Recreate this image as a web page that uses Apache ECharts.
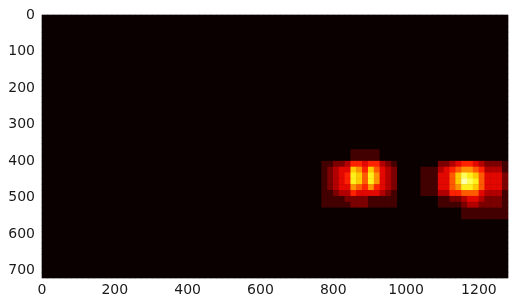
<!DOCTYPE html>
<html>
<head>
<meta charset="utf-8">
<script src="https://cdn.jsdelivr.net/npm/echarts@6/dist/echarts.min.js"></script>
<style>
html,body{margin:0;padding:0;background:#ffffff;}
#chart{width:517px;height:307px;}
</style>
</head>
<body>
<div id="chart"></div>
<script>
// Image is 1280 x 720 pixels, heat accumulated on 16-pixel cells (80 x 45 cells)
const imageWidth = 1280;
const imageHeight = 720;
const cellSize = 16;
const xTickLabels = [0, 200, 400, 600, 800, 1000, 1200];
const yTickLabels = [0, 100, 200, 300, 400, 500, 600, 700];

// Heat values for cell rows 23..34, cell columns 48..79 (all other cells are 0)
const heatFirstRow = 23;
const heatFirstCol = 48;
const heatRows = [
  [0,0,0,0,0,1,1,1,1,1,0,0,0, 0,0,0,0, 0,0,0, 0,0,0,0,0,0,0,0,0,0,0,0],
  [0,0,0,0,0,1,1,1,1,1,0,0,0, 0,0,0,0, 0,0,0, 0,0,0,0,0,0,0,0,0,0,0,0],
  [1,1,2,2,3,5,5,4,5,5,3,2,1, 0,0,0,0, 0,0,0, 2,2,3,4,5,5,4,3,2,2,2,1],
  [1,2,3,4,4,8,7,5,8,6,4,3,2, 0,0,0,0, 1,1,1, 3,4,5,6,7,7,6,5,3,3,3,1],
  [1,2,3,4,5,9,8,6,9,7,4,3,2, 0,0,0,0, 1,1,1, 4,4,6,8,10,9,8,6,4,4,4,2],
  [1,2,3,4,5,9,8,6,9,7,4,3,2, 0,0,0,0, 1,1,1, 4,4,6,8,11,10,9,6,4,4,4,2],
  [1,2,3,4,4,7,6,5,7,5,4,3,2, 0,0,0,0, 1,1,1, 4,4,6,7,9,9,8,6,4,4,4,2],
  [1,1,2,3,3,5,4,4,4,4,3,2,1, 0,0,0,0, 1,1,1, 3,3,5,5,6,6,6,4,3,3,3,1],
  [1,1,1,1,2,2,2,2,1,1,1,1,1, 0,0,0,0, 0,0,0, 1,1,2,2,3,4,4,3,2,2,2,1],
  [1,1,1,1,1,2,2,2,1,1,1,1,1, 0,0,0,0, 0,0,0, 1,1,1,1,2,3,3,2,2,2,2,1],
  [0,0,0,0,0,0,0,0,0,0,0,0,0, 0,0,0,0, 0,0,0, 0,0,0,0,1,1,1,1,1,1,1,1],
  [0,0,0,0,0,0,0,0,0,0,0,0,0, 0,0,0,0, 0,0,0, 0,0,0,0,1,1,1,1,1,1,1,1]
];
const heatMax = 12;

const nCols = imageWidth / cellSize;
const nRows = imageHeight / cellSize;
const colCats = [], rowCats = [];
for (let i = 0; i < nCols; i++) colCats.push(i);
for (let j = 0; j < nRows; j++) rowCats.push(j);
const data = [];
for (let j = 0; j < nRows; j++) {
  for (let i = 0; i < nCols; i++) {
    let v = 0;
    const r = j - heatFirstRow, c = i - heatFirstCol;
    if (r >= 0 && r < heatRows.length && c >= 0 && c < heatRows[r].length) v = heatRows[r][c];
    data.push([i, j, v]);
  }
}

const hotColors = ['#0b0000','#4e0000','#910000','#d30000','#ff1700','#ff5a00','#ff9d00','#ffe000','#ffff36','#ffff9b','#ffffff'];
const labelStyle = {fontFamily: 'DejaVu Sans', fontSize: 14, color: '#1a1a1a'};

const chart = echarts.init(document.getElementById('chart'), null, {renderer: 'canvas'});
chart.setOption({
  animation: false,
  backgroundColor: '#ffffff',
  grid: {left: 42, right: 9, top: 15, bottom: 29, containLabel: false, outerBoundsMode: 'none',
         show: true, borderColor: '#c4c4c4', borderWidth: 1, backgroundColor: '#0b0000'},
  visualMap: {show: false, type: 'continuous', min: 0, max: heatMax, dimension: 2, seriesIndex: 0,
              inRange: {color: hotColors}},
  xAxis: [
    {type: 'category', data: colCats, show: false, gridIndex: 0},
    {type: 'value', gridIndex: 0, position: 'bottom', min: 0, max: imageWidth, interval: 200,
     axisLine: {show: false}, axisTick: {show: false}, splitLine: {show: false},
     axisLabel: Object.assign({margin: 5, showMaxLabel: false,
       formatter: v => xTickLabels.indexOf(v) >= 0 ? String(v) : ''}, labelStyle)}
  ],
  yAxis: [
    {type: 'category', data: rowCats, show: false, inverse: true, gridIndex: 0},
    {type: 'value', gridIndex: 0, position: 'left', inverse: true, min: 0, max: imageHeight, interval: 100,
     axisLine: {show: false}, axisTick: {show: false}, splitLine: {show: false},
     axisLabel: Object.assign({margin: 7, showMaxLabel: false,
       formatter: v => yTickLabels.indexOf(v) >= 0 ? String(v) : ''}, labelStyle)}
  ],
  series: [{
    type: 'heatmap', xAxisIndex: 0, yAxisIndex: 0, data: data,
    itemStyle: {borderWidth: 0}, emphasis: {disabled: true}, progressive: 0
  }]
});
</script>
</body>
</html>
